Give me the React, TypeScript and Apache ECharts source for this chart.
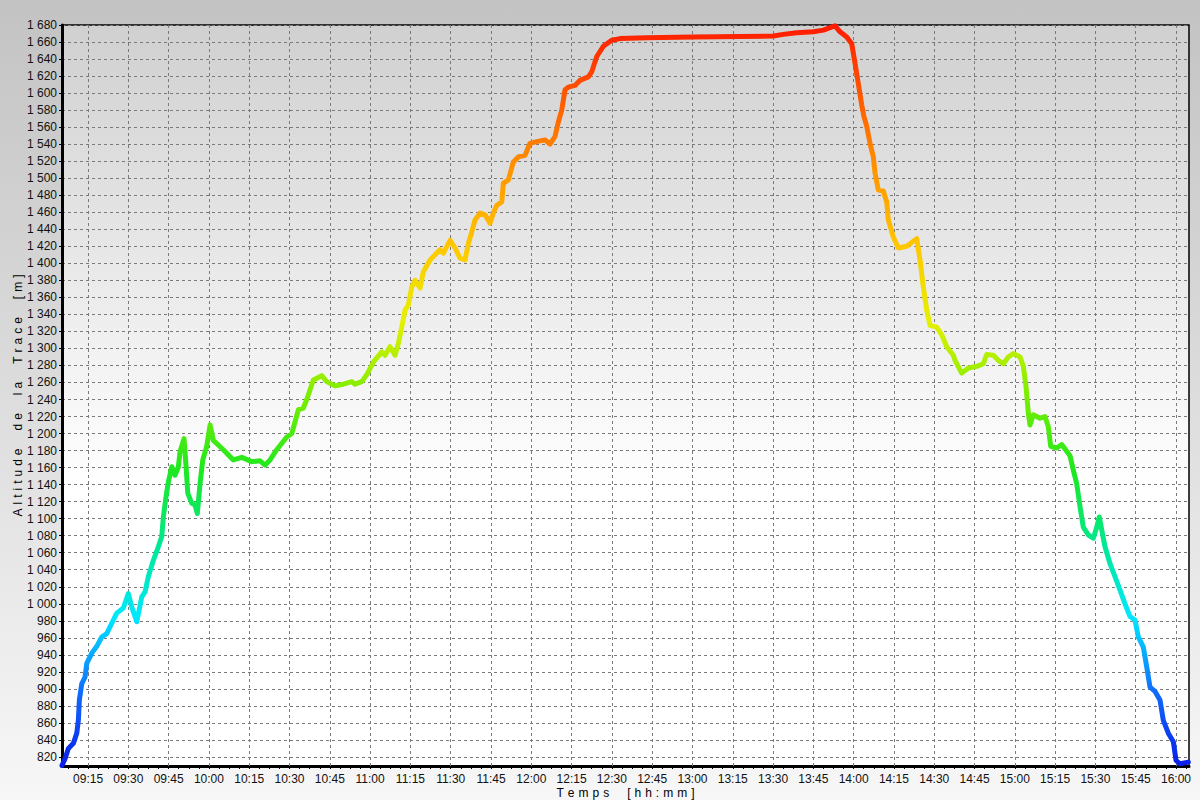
import React, { useEffect, useRef } from "react";
import * as echarts from "echarts";

const times: string[] = [
  "09:05:18","09:06:26","09:07:40","09:09:32","09:10:48","09:11:23","09:11:46","09:12:39","09:13:53","09:14:31",
  "09:16:23","09:18:14","09:20:06","09:21:58","09:23:11","09:25:41","09:28:08","09:30:00","09:31:16","09:33:08",
  "09:34:59","09:36:13","09:37:27","09:39:19","09:41:10","09:42:26","09:43:02","09:44:02","09:44:53","09:46:10",
  "09:47:23","09:48:37","09:49:15","09:50:44","09:51:29","09:52:07","09:53:36","09:54:50","09:55:41","09:56:41",
  "09:57:42","09:59:11","10:00:25","10:01:38","10:05:22","10:09:05","10:12:13","10:15:56","10:19:02","10:20:53",
  "10:22:45","10:25:14","10:28:58","10:30:50","10:33:17","10:35:08","10:36:25","10:38:52","10:41:59","10:43:51",
  "10:46:56","10:50:02","10:53:10","10:54:23","10:56:53","10:58:44","11:01:12","11:04:20","11:05:33","11:07:25",
  "11:09:17","11:10:31","11:11:46","11:13:00","11:14:14","11:15:29","11:16:43","11:18:35","11:19:49","11:22:19",
  "11:24:10","11:26:02","11:27:16","11:29:45","11:31:37","11:33:28","11:35:20","11:36:34","11:37:50","11:39:04",
  "11:40:55","11:42:47","11:44:38","11:45:52","11:47:08","11:49:00","11:49:35","11:51:27","11:53:19","11:55:10",
  "11:57:40","11:59:32","12:02:02","12:05:07","12:06:58","12:08:50","12:10:04","12:11:20","12:12:34","12:13:47",
  "12:16:17","12:18:08","12:21:14","12:22:30","12:24:22","12:26:49","12:29:56","12:33:02","12:42:58","13:00:19",
  "13:30:06","13:33:49","13:38:49","13:44:59","13:48:43","13:51:12","13:53:04","13:54:55","13:57:25","13:59:17",
  "14:00:31","14:01:44","14:03:00","14:03:52","14:04:52","14:06:05","14:07:20","14:07:57","14:09:11","14:11:02",
  "14:12:19","14:12:54","14:14:46","14:16:38","14:19:45","14:23:29","14:24:42","14:25:56","14:27:12","14:28:26",
  "14:30:55","14:32:47","14:34:38","14:37:06","14:37:44","14:40:13","14:42:41","14:45:49","14:48:16","14:49:32",
  "14:51:59","14:53:51","14:55:43","14:57:34","14:59:26","15:01:56","15:03:10","15:04:10","15:05:01","15:05:39",
  "15:06:53","15:09:22","15:11:14","15:12:28","15:13:21","15:15:35","15:17:27","15:20:32","15:21:46","15:23:02",
  "15:24:16","15:25:29","15:27:21","15:29:13","15:30:29","15:31:27","15:32:20","15:33:34","15:35:26","15:37:17",
  "15:39:09","15:41:01","15:42:52","15:44:44","15:45:58","15:47:50","15:49:05","15:50:19","15:52:11","15:54:02",
  "15:55:16","15:57:08","15:59:00","16:00:00","16:01:29","16:04:35"
];

const altitudes: number[] = [
  810,818,830,836,848,863,887,906,914,930,
  942,950,961,965,973,989,995,1012,996,979,
  1008,1014,1032,1051,1067,1079,1102,1126,1143,1161,
  1151,1161,1179,1194,1161,1130,1118,1116,1106,1141,
  1169,1185,1210,1192,1181,1169,1172,1167,1168,1163,
  1169,1181,1196,1200,1228,1230,1240,1263,1268,1261,
  1256,1258,1261,1258,1261,1269,1284,1296,1292,1302,
  1292,1306,1325,1345,1351,1372,1380,1371,1390,1404,
  1410,1416,1412,1427,1418,1406,1404,1423,1437,1451,
  1459,1457,1447,1459,1468,1472,1494,1498,1519,1525,
  1527,1541,1543,1545,1540,1549,1566,1580,1604,1607,
  1609,1615,1619,1625,1643,1655,1662,1664,1665,1666,
  1667,1669,1671,1672,1674,1677,1679,1672,1666,1658,
  1635,1611,1586,1572,1561,1541,1525,1506,1486,1485,
  1472,1451,1431,1418,1420,1429,1404,1372,1345,1327,
  1325,1316,1302,1292,1286,1271,1277,1279,1282,1293,
  1292,1286,1282,1290,1294,1290,1279,1255,1224,1210,
  1222,1218,1220,1208,1185,1183,1187,1174,1157,1141,
  1114,1090,1081,1077,1090,1102,1087,1067,1047,1032,
  1016,1000,985,981,961,949,926,902,897,887,
  863,848,838,816,812,814
];

// Tick labels
const timeTicks: string[] = [
  "09:15","09:30","09:45","10:00","10:15","10:30","10:45","11:00","11:15","11:30",
  "11:45","12:00","12:15","12:30","12:45","13:00","13:15","13:30","13:45","14:00",
  "14:15","14:30","14:45","15:00","15:15","15:30","15:45","16:00"
];
const altTicks: number[] = [
  820,840,860,880,900,920,940,960,980,1000,1020,1040,1060,1080,1100,1120,1140,1160,1180,1200,
  1220,1240,1260,1280,1300,1320,1340,1360,1380,1400,1420,1440,1460,1480,1500,1520,1540,1560,1580,1600,
  1620,1640,1660,1680
];

const axisStart = "09:05:18";
const axisEnd = "16:04:50";
const minorStepMin = 3.75;
const yMin = 809.4;
const yMax = 1680;
const rainbow: string[] = [
  "#0a1ee8", "#0f6cff", "#00e8ff", "#00e890", "#1ee81e", "#7aee00",
  "#e6f000", "#ffc800", "#ff9600", "#ff5a00", "#ff1a00"
];
const SP = "\u2004";
const GAP = "\u2003\u2002";
const spaced = (w: string) => w.split("").join(SP);
const xTitle = [spaced("Temps"), spaced("[hh:mm]")].join(GAP);
const yTitle = ["Altitude", "de", "la", "Trace", "[m]"].map(spaced).join(GAP);

const toTs = (s: string) => {
  const p = s.split(":").map(Number);
  return new Date(2020, 0, 1, p[0], p[1], p[2] || 0).getTime();
};

const fmtAlt = (v: number) => {
  const r = Math.round(v);
  if (r >= 1000) return Math.floor(r / 1000) + " " + String(r % 1000).padStart(3, "0");
  return String(r);
};

const fmtTime = (v: number) => {
  const d = new Date(Math.round(v / 1000) * 1000);
  return String(d.getHours()).padStart(2, "0") + ":" + String(d.getMinutes()).padStart(2, "0");
};

export default function App() {
  const ref = useRef<HTMLDivElement>(null);
  useEffect(() => {
    if (!ref.current) return;
    const chart = echarts.init(ref.current, undefined, { renderer: "svg" });
    const data = times.map((t, i) => [toTs(t), altitudes[i]]);
    const xMin = toTs(axisStart);
    const xMax = toTs(axisEnd);
    const majorX = timeTicks.map((t) => toTs(t + ":00"));
    const minorX: number[] = [];
    const step = minorStepMin * 60 * 1000;
    for (let v = majorX[0] - 2 * step; v <= xMax; v += step) {
      if (v >= xMin) minorX.push(v);
    }
    const grid = "#7a7a7a";
    chart.setOption({
      animation: false,
      backgroundColor: new echarts.graphic.LinearGradient(0, 0, 0, 1, [
        { offset: 0, color: "#c3c3c3" },
        { offset: 1, color: "#f7f7f7" },
      ]),
      textStyle: { fontFamily: "Liberation Sans, Arial, sans-serif" },
      grid: {
        left: 62,
        top: 25,
        right: 11,
        bottom: 34,
        containLabel: false,
        outerBoundsMode: "none",
        show: true,
        borderColor: "#000",
        borderWidth: 1.5,
        backgroundColor: new echarts.graphic.LinearGradient(0, 0, 0, 1, [
          { offset: 0, color: "#d0d0d0" },
          { offset: 0.62, color: "#ffffff" },
          { offset: 1, color: "#ffffff" },
        ]),
      },
      visualMap: {
        show: false,
        type: "continuous",
        dimension: 1,
        seriesIndex: 1,
        min: 810,
        max: 1680,
        inRange: { color: rainbow },
      },
      xAxis: [
        {
          type: "value",
          position: "bottom",
          min: xMin,
          max: xMax,
          name: xTitle,
          nameLocation: "middle",
          nameGap: 27,
          nameMoveOverlap: false,
          nameTextStyle: { color: "#000", fontSize: 12, verticalAlign: "middle" },
          axisLine: { show: true, onZero: false, lineStyle: { color: "#000", width: 3 } },
          axisTick: { show: true, length: 3, customValues: majorX, lineStyle: { color: "#000" } },
          axisLabel: {
            customValues: majorX,
            formatter: (v: number) => fmtTime(v),
            color: "#111",
            fontSize: 12,
            margin: 7,
          },
          splitLine: { show: false },
        },
        {
          type: "value",
          position: "bottom",
          gridIndex: 0,
          min: xMin,
          max: xMax,
          axisLine: { show: false, onZero: false },
          axisTick: { show: true, length: 3, customValues: minorX, lineStyle: { color: "#000" } },
          axisLabel: { show: false },
          splitLine: { show: false },
        },
      ],
      yAxis: {
        type: "value",
        min: yMin,
        max: yMax,
        name: yTitle,
        nameLocation: "middle",
        nameGap: 44,
        nameMoveOverlap: false,
        nameTextStyle: { color: "#000", fontSize: 12, verticalAlign: "middle" },
        axisLine: { show: true, onZero: false, lineStyle: { color: "#000", width: 3 } },
        axisTick: { show: true, length: 3, customValues: altTicks, lineStyle: { color: "#000" } },
        axisLabel: {
          customValues: altTicks,
          color: "#111",
          fontSize: 12,
          margin: 5,
          formatter: (v: number) => fmtAlt(v),
        },
        splitLine: { show: true, lineStyle: { color: grid, type: [3, 3], width: 1 } },
      },
      series: [
        {
          type: "line",
          xAxisIndex: 0,
          data: [[xMin, yMax]],
          symbol: "none",
          showSymbol: false,
          lineStyle: { width: 0, opacity: 0 },
          silent: true,
          z: 1,
          markLine: {
            silent: true,
            symbol: ["none", "none"],
            label: { show: false },
            lineStyle: { color: grid, type: [3, 3], width: 1 },
            data: majorX.map((v) => ({ xAxis: v })),
          },
        },
        {
          type: "line",
          xAxisIndex: 0,
          data,
          showSymbol: false,
          symbol: "none",
          lineStyle: { width: 5, cap: "round", join: "round" },
          z: 5,
        },
      ],
    });
    return () => chart.dispose();
  }, []);
  return (
    <div
      ref={ref}
      style={{ position: "fixed", left: 0, top: 0, width: 1200, height: 800 }}
    />
  );
}
